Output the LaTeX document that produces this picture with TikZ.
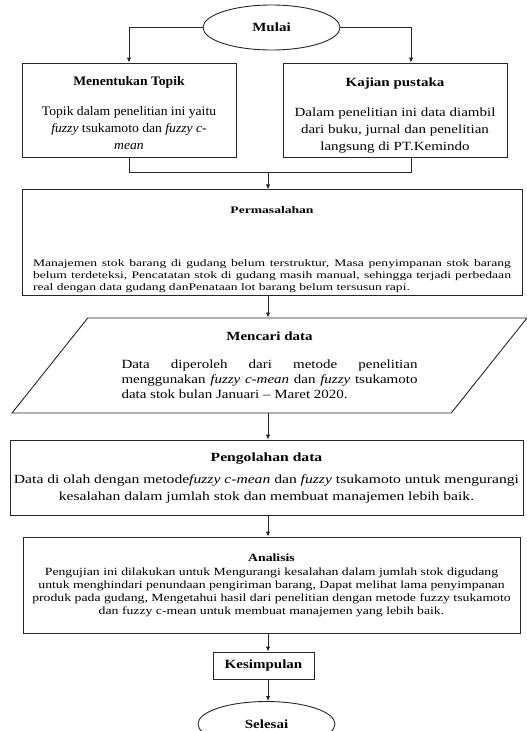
\documentclass[tikz,border=0pt]{standalone}
\usepackage{fontspec}
\setmainfont{Liberation Serif}[FakeStretch=1.2]
\newfontfamily\plainfont{Liberation Serif}[FakeStretch=1.05]
\newfontfamily\widefont{Liberation Serif}[FakeStretch=1.25]
\newfontfamily\widerfont{Liberation Serif}[FakeStretch=1.36]
\usepackage{tikz}
\usetikzlibrary{arrows.meta,positioning,calc,shapes.geometric}

\begin{document}
\begin{tikzpicture}[
  x=1pt,y=-1pt,
  box/.style={draw=black!85, line width=0.9pt, align=center, inner xsep=2pt, inner ysep=2pt, font=\fontsize{12.5}{15}\selectfont},
  term/.style={box, ellipse, minimum width=137pt, minimum height=45pt},
  io/.style={box, trapezium, trapezium left angle=43, trapezium right angle=137, trapezium stretches body},
  line/.style={line width=0.9pt, draw=black!85},
  arrow/.style={line, -{Latex[length=5pt,width=4.5pt]}}
]
\useasboundingbox (0,0) rectangle (527,731);
\coordinate (spine) at (268,0);
\coordinate (merge) at (268,172);
\node[term] (start) at (271.5,27.5) {\textbf{Mulai}};
\node[box, minimum width=214pt, minimum height=94pt, font=\plainfont\fontsize{13}{17}\selectfont] (topik) at (129,110)
  {\rule{0pt}{15pt}\textbf{Menentukan Topik}\\[13pt]Topik dalam penelitian ini yaitu\\\emph{fuzzy} tsukamoto dan \emph{fuzzy c-}\\\emph{mean}};
\node[box, minimum width=224pt, minimum height=94pt, font=\fontsize{12.5}{17}\selectfont] (kajian) at (395,110)
  {\rule{0pt}{19pt}\textbf{Kajian pustaka}\\[13pt]Dalam penelitian ini data diambil\\dari buku, jurnal dan penelitian\\langsung di PT.Kemindo};
\node[box, minimum width=500pt, minimum height=95pt, font=\widerfont\fontsize{10}{12}\selectfont] (perm) at (272,242.5)
  {\rule{0pt}{22pt}\textbf{Permasalahan}\\[45pt]\parbox{478pt}{Manajemen stok barang di gudang belum terstruktur, Masa penyimpanan stok barang\linebreak belum terdeteksi, Pencatatan stok di gudang masih manual, sehingga terjadi perbedaan\linebreak real dengan data gudang danPenataan lot barang belum tersusun rapi.}};
\node[io, minimum width=515pt, minimum height=95pt] (cari) at (269.5,365.5)
  {\textbf{Mencari data}\\[18pt]\parbox{296pt}{Data diperoleh dari metode penelitian\linebreak menggunakan \emph{fuzzy c-mean} dan \emph{fuzzy} tsukamoto\linebreak data stok bulan Januari – Maret 2020.}};
\node[box, minimum width=513pt, minimum height=75pt, font=\widefont\fontsize{12.5}{17}\selectfont] (olah) at (266.5,477.5)
  {\rule{0pt}{9pt}\textbf{Pengolahan data}\\[5pt]Data di olah dengan metode\emph{fuzzy c-mean} dan \emph{fuzzy} tsukamoto untuk mengurangi\\kesalahan dalam jumlah stok dan membuat manajemen lebih baik.};
\node[box, minimum width=497pt, minimum height=96pt, font=\widefont\fontsize{11}{13}\selectfont] (analisis) at (271.5,585)
  {\textbf{Analisis}\\[1pt]Pengujian ini dilakukan untuk Mengurangi kesalahan dalam jumlah stok digudang\\untuk menghindari penundaan pengiriman barang, Dapat melihat lama penyimpanan\\produk pada gudang, Mengetahui hasil dari penelitian dengan metode fuzzy tsukamoto\\dan fuzzy c-mean untuk membuat manajemen yang lebih baik.};
\node[box, minimum width=101pt, minimum height=27pt] (simpul) at (263.5,665.5) {\textbf{Kesimpulan}};
\node[term] (end) at (266.5,724) {\textbf{Selesai}};
\draw[arrow] (start.west) -| (topik.north);
\draw[arrow] (start.east) -| ([xshift=16pt]kajian.north);
\draw[line] (topik.south) |- (merge);
\draw[line] ([xshift=16pt]kajian.south) |- (merge);
\draw[arrow] (merge) -- (perm.north -| spine);
\draw[arrow] (perm.south -| spine) -- (cari.north -| spine);
\draw[arrow] (cari.south -| spine) -- (olah.north -| spine);
\draw[arrow] (olah.south -| spine) -- (analisis.north -| spine);
\draw[arrow] (analisis.south -| spine) -- (simpul.north -| spine);
\draw[arrow] (simpul.south -| spine) -- (end.north -| spine);
\end{tikzpicture}
\end{document}
